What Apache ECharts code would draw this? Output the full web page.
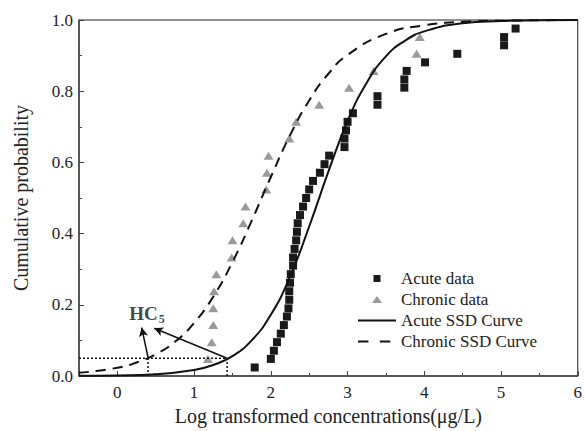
<!DOCTYPE html>
<html>
<head>
<meta charset="utf-8">
<script src="https://cdn.jsdelivr.net/npm/echarts@6/dist/echarts.min.js"></script>
<style>html,body{margin:0;padding:0;background:#fff;font-family:'Liberation Serif',serif}#c{width:585px;height:431px}</style>
</head>
<body>
<div id="c"></div>
<script>
// ---- data ----
var acuteX = [1.79, 2.00, 2.04, 2.08, 2.13, 2.17, 2.21, 2.23, 2.24, 2.24, 2.25, 2.26, 2.29, 2.29, 2.31, 2.33, 2.34, 2.35, 2.38, 2.42, 2.46, 2.50, 2.55, 2.64, 2.70, 2.76, 2.96, 2.96, 2.98, 3.00, 3.07, 3.39, 3.39, 3.74, 3.74, 3.77, 4.01, 4.43, 5.04, 5.04, 5.19];
var acuteP = [0.024, 0.048, 0.071, 0.095, 0.119, 0.143, 0.167, 0.190, 0.214, 0.238, 0.262, 0.286, 0.310, 0.333, 0.357, 0.381, 0.405, 0.429, 0.452, 0.476, 0.500, 0.524, 0.548, 0.571, 0.595, 0.619, 0.643, 0.667, 0.690, 0.714, 0.738, 0.762, 0.786, 0.810, 0.833, 0.857, 0.881, 0.905, 0.929, 0.952, 0.976];
var chronicX = [1.18, 1.23, 1.25, 1.25, 1.26, 1.29, 1.49, 1.50, 1.64, 1.67, 1.94, 1.95, 1.97, 2.24, 2.33, 2.63, 3.02, 3.34, 3.90, 3.94];
var chronicP = [0.048, 0.095, 0.143, 0.190, 0.238, 0.286, 0.333, 0.381, 0.429, 0.476, 0.524, 0.571, 0.619, 0.667, 0.714, 0.762, 0.810, 0.857, 0.905, 0.952];
var acuteCurveX = [-0.5, 0, 0.5, 1.0, 1.25, 1.5, 1.75, 2.0, 2.25, 2.5, 2.75, 3.0, 3.25, 3.5, 3.75, 4.0, 4.5, 5.0, 5.5, 6.0];
var acuteCurveP = [0.0004, 0.0014, 0.0049, 0.017, 0.031, 0.056, 0.100, 0.172, 0.279, 0.420, 0.574, 0.716, 0.824, 0.898, 0.942, 0.968, 0.991, 0.997, 0.999, 1.0];
var chronicCurveX = [-0.5, 0, 0.25, 0.5, 0.75, 1.0, 1.25, 1.5, 1.75, 2.0, 2.25, 2.5, 2.75, 3.0, 3.5, 4.0, 4.5, 5.0, 6.0];
var chronicCurveP = [0.0088, 0.023, 0.038, 0.061, 0.096, 0.149, 0.223, 0.320, 0.436, 0.559, 0.676, 0.774, 0.849, 0.902, 0.961, 0.985, 0.995, 0.998, 1.0];
var hc5Acute = 1.43, hc5Chronic = 0.40, hc5Level = 0.05;
var arrowChronic = [[0.40, 0.052], [0.317, 0.136]];
var arrowAcute = [[1.43, 0.05], [0.48, 0.134]];
var hc5LabelPos = [0.386, 0.176];
var xTickLabels = ['0', '1', '2', '3', '4', '5', '6'];
var yTickLabels = ['0.0', '0.2', '0.4', '0.6', '0.8', '1.0'];

function pairs(xs, ys) { return xs.map(function (x, i) { return [x, ys[i]]; }); }

var FONT = 'Liberation Serif';
var chart = echarts.init(document.getElementById('c'), null, { renderer: 'svg' });
chart.setOption({
  animation: false,
  backgroundColor: '#fff',
  textStyle: { fontFamily: FONT },
  grid: { left: 79, right: 5, top: 20, bottom: 54, show: true, borderColor: '#222', borderWidth: 1, containLabel: false },
  legend: {
    orient: 'vertical', left: 358, top: 270, padding: 0, itemWidth: 38, itemHeight: 7, itemGap: 4,
    symbolKeepAspect: true,
    textStyle: { fontFamily: FONT, fontSize: 17, color: '#222', lineHeight: 17 },
    data: [
      { name: 'Acute data', icon: 'path://M0,0H10V10H0Z' },
      { name: 'Chronic data', icon: 'path://M5,0L10,7L0,7Z' },
      { name: 'Acute SSD Curve', icon: 'path://M0,0H40V2H0Z' },
      { name: 'Chronic SSD Curve', icon: 'path://M0,0H11V2H0Z M23,0H34V2H23Z M40,0L40,2L39.99,2Z' }
    ]
  },
  xAxis: [{
    type: 'value', min: -0.5, max: 6, minInterval: 1, maxInterval: 1,
    name: 'Log transformed concentrations(\u03bcg/L)', nameLocation: 'middle', nameGap: 30,
    nameTextStyle: { fontFamily: FONT, fontSize: 20, color: '#222' },
    axisLine: { show: true, onZero: false, lineStyle: { color: '#444', width: 1.5 } },
    axisTick: { show: true, inside: true, length: 5, lineStyle: { color: '#444' } },
    axisLabel: { fontFamily: FONT, fontSize: 17, color: '#222', margin: 8,
      formatter: function (v) { var s = String(v); return xTickLabels.indexOf(s) >= 0 ? s : ''; } },
    splitLine: { show: false }
  }, {
    type: 'value', min: -0.5, max: 6, interval: 0.5, position: 'bottom', gridIndex: 0,
    axisLine: { show: false, onZero: false }, axisLabel: { show: false }, splitLine: { show: false },
    axisTick: { show: true, inside: true, length: 3, lineStyle: { color: '#444' } }
  }],
  yAxis: {
    type: 'value', min: 0, max: 1, interval: 0.2,
    name: 'Cumulative probability', nameLocation: 'middle', nameGap: 48,
    nameTextStyle: { fontFamily: FONT, fontSize: 20, color: '#222' },
    axisLine: { show: true, onZero: false, lineStyle: { color: '#444', width: 1.5 } },
    axisTick: { show: true, inside: true, length: 5, lineStyle: { color: '#444' } },
    minorTick: { show: true, splitNumber: 2, length: 3, lineStyle: { color: '#444' } },
    axisLabel: { fontFamily: FONT, fontSize: 17, color: '#222', margin: 6,
      formatter: function (v) { var s = v.toFixed(1); return yTickLabels.indexOf(s) >= 0 ? s : ''; } },
    splitLine: { show: false }
  },
  series: [
    { name: 'Acute data', type: 'scatter', data: pairs(acuteX, acuteP), symbol: 'rect', symbolSize: 8,
      itemStyle: { color: '#1a1a1a', opacity: 1 }, z: 3 },
    { name: 'Chronic data', type: 'scatter', data: pairs(chronicX, chronicP), symbol: 'triangle', symbolSize: [10, 8],
      itemStyle: { color: '#9a9a9a', opacity: 1 }, z: 3 },
    { name: 'Acute SSD Curve', type: 'line', data: pairs(acuteCurveX, acuteCurveP), smooth: true, symbol: 'none',
      lineStyle: { color: '#111', width: 2 }, itemStyle: { color: '#111' }, z: 4 },
    { name: 'Chronic SSD Curve', type: 'line', data: pairs(chronicCurveX, chronicCurveP), smooth: true, symbol: 'none',
      lineStyle: { color: '#111', width: 2, type: [10, 7] }, itemStyle: { color: '#111' }, z: 4 },
    { name: 'guideH', type: 'line', data: [[-0.5, hc5Level], [hc5Acute, hc5Level]], symbol: 'none',
      lineStyle: { color: '#111', width: 1.5, type: [2, 2] }, z: 5 },
    { name: 'guideV1', type: 'line', data: [[hc5Chronic, 0], [hc5Chronic, hc5Level]], symbol: 'none',
      lineStyle: { color: '#111', width: 1.5, type: [2, 2] }, z: 5 },
    { name: 'guideV2', type: 'line', data: [[hc5Acute, 0], [hc5Acute, hc5Level]], symbol: 'none',
      lineStyle: { color: '#111', width: 1.5, type: [2, 2] }, z: 5 },
    { name: 'arrows', type: 'line', data: [], symbol: 'none', z: 6,
      markLine: { silent: true, symbol: ['none', 'arrow'], symbolSize: [7, 9], label: { show: false },
        lineStyle: { color: '#111', width: 1.5, type: 'solid' },
        data: [
          [{ coord: arrowChronic[0] }, { coord: arrowChronic[1] }],
          [{ coord: arrowAcute[0] }, { coord: arrowAcute[1] }]
        ] } },
    { name: 'hc5', type: 'scatter', data: [hc5LabelPos], symbolSize: 0, z: 7,
      label: { show: true, position: 'inside', formatter: 'HC{s|5}',
        fontFamily: FONT, fontSize: 19, fontWeight: 'bold', color: '#111',
        rich: { s: { fontFamily: FONT, fontSize: 12, fontWeight: 'bold', color: '#111', padding: [11, 0, 0, 1] } } } }
  ]
});
</script>
</body>
</html>
